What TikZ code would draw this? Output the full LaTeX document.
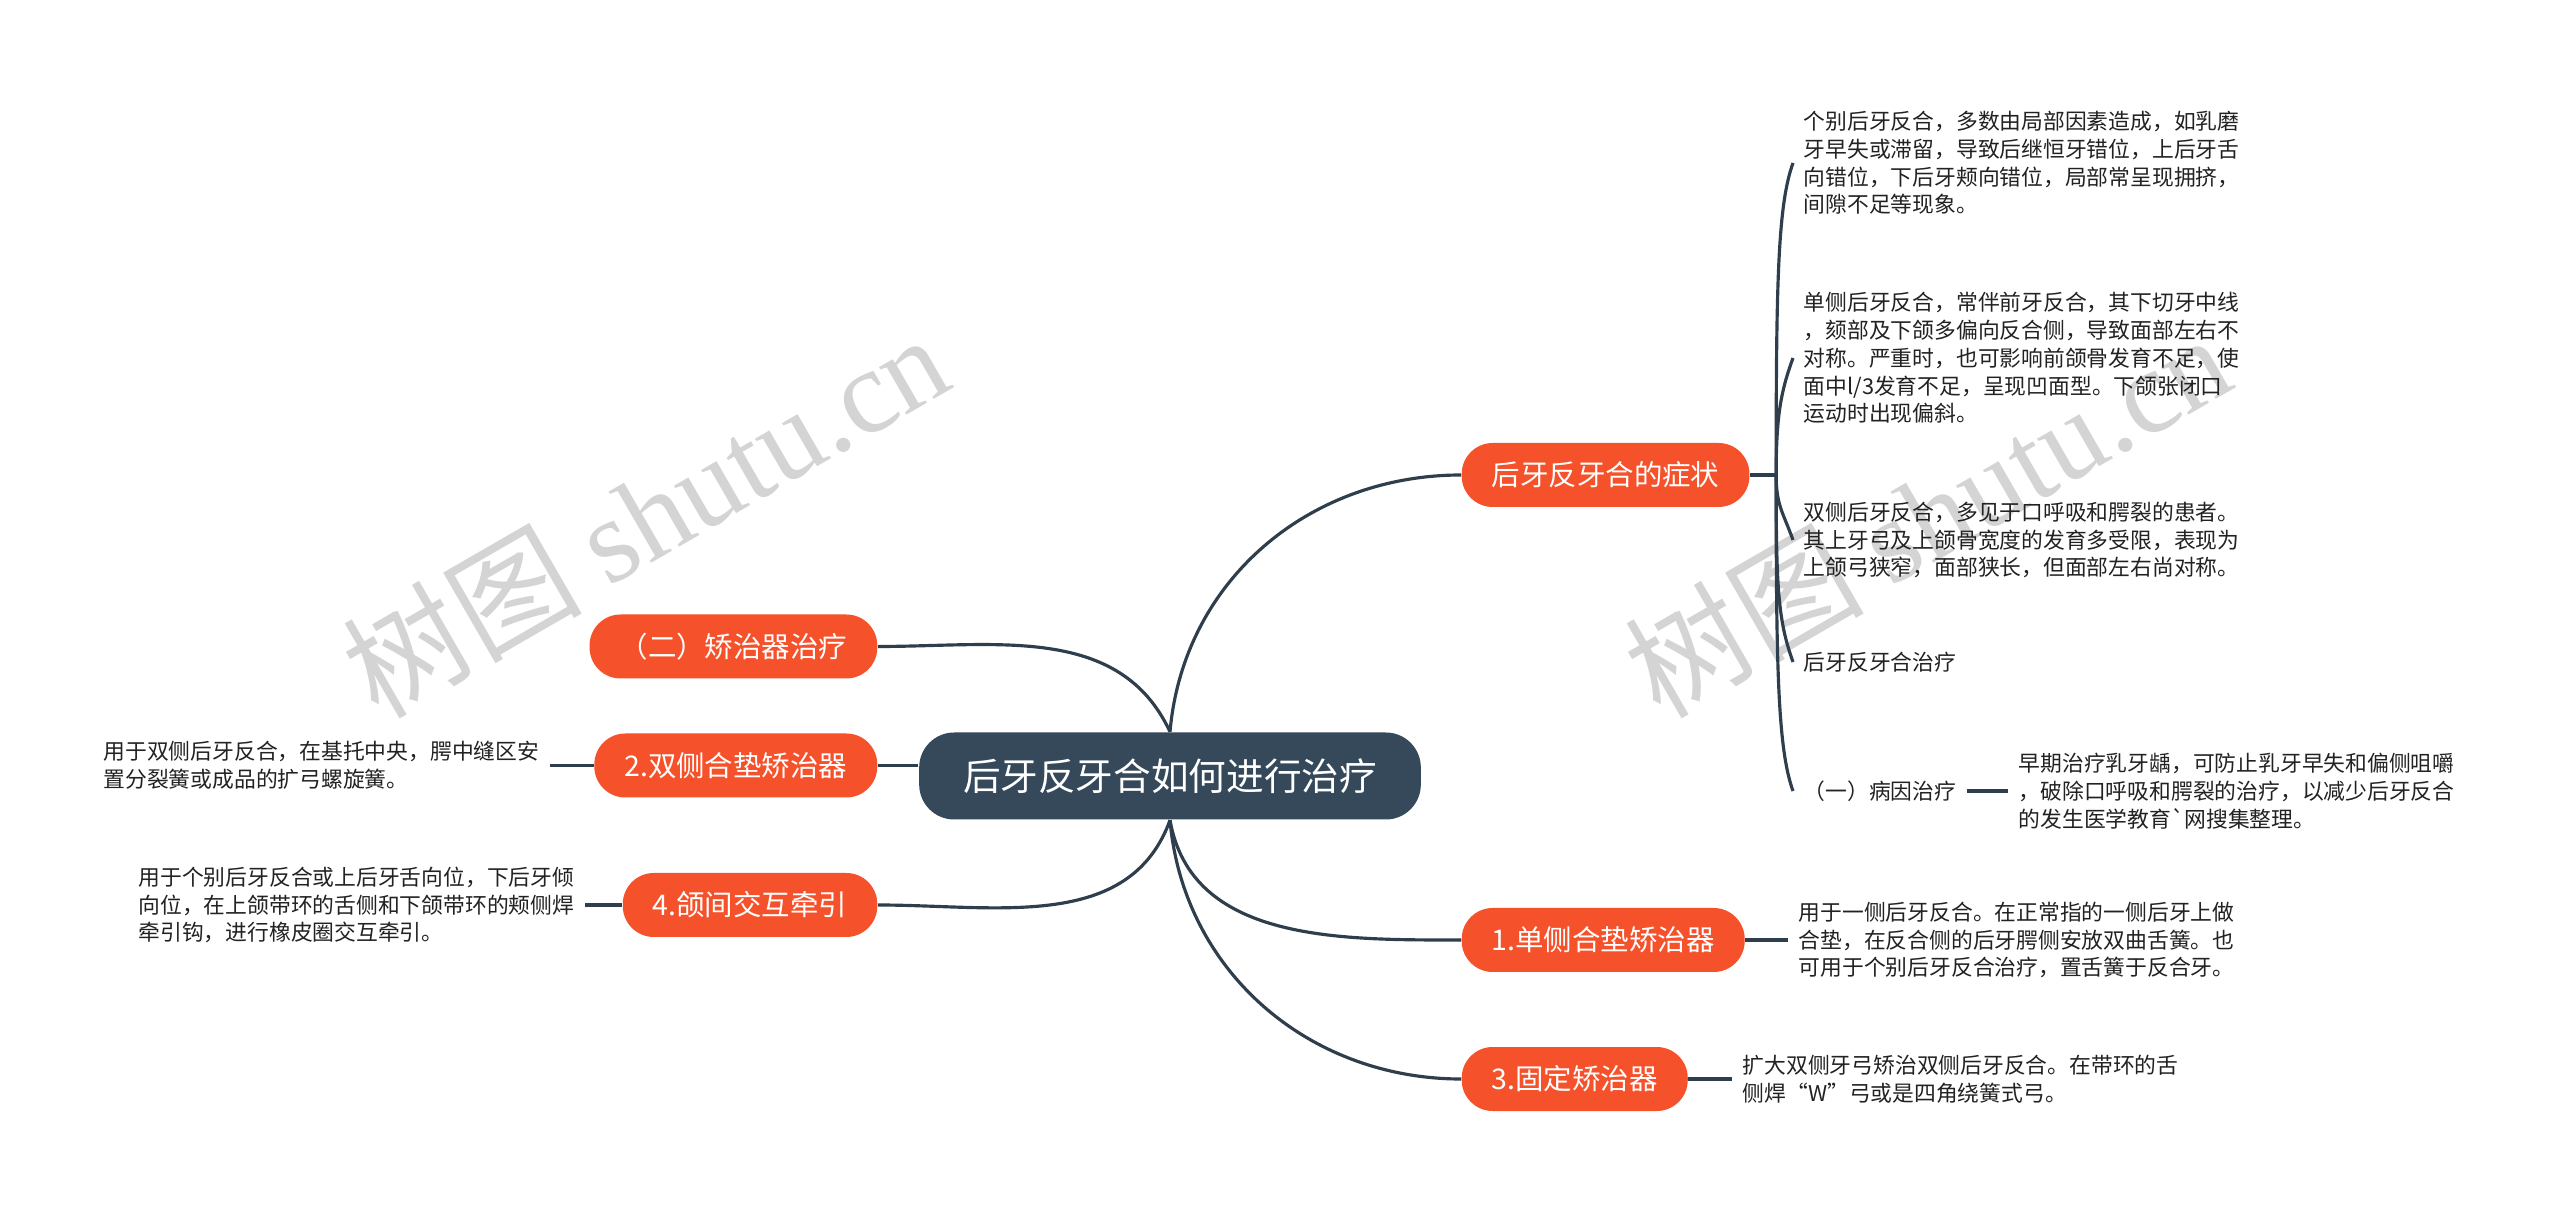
\documentclass[tikz,border=0pt]{standalone}
\usepackage{fontspec}
\setmainfont{Noto Sans CJK SC}
\newfontfamily\wmserif{Liberation Serif}
\usepackage{xcolor}
\usepackage{tikz}
\usetikzlibrary{calc}
\definecolor{rootslate}{HTML}{35495A}
\definecolor{topicred}{HTML}{F5512B}
\definecolor{linkslate}{HTML}{2E3E4C}
\definecolor{inkgray}{HTML}{222222}

\begin{document}
\begin{tikzpicture}[
  root/.style={fill=rootslate, text=white, rounded corners=0.35cm, minimum height=0.87cm, inner xsep=0.44cm, font=\fontsize{10.7}{12}\selectfont},
  topic/.style={fill=topicred, text=white, rounded corners=0.31cm, minimum height=0.64cm, inner xsep=0.3cm, font=\fontsize{8.1}{10}\selectfont},
  note/.style={align=left, inner sep=0.1cm, text=inkgray, font=\fontsize{6.2}{7.9}\selectfont},
  link/.style={draw=linkslate, line width=0.9pt},
  wmark/.style={text=black!17, rotate=30, font=\fontsize{34}{36}\selectfont}
]
\useasboundingbox[fill=white] (0,0) rectangle (25.6,12.12);
% --- watermarks ---
\node[wmark] (wmL) at (6.45,6.98) {树图 {\wmserif shutu.cn}};
\node[wmark] (wmR) at (19.27,6.98) {树图 {\wmserif shutu.cn}};
% --- root and main topics ---
\node[root] (root) at (11.70,4.36) {后牙反牙合如何进行治疗};
\node[topic, anchor=west] (sym)   at (14.61,7.37) {后牙反牙合的症状};
\node[topic, anchor=west] (one)   at (14.61,2.72) {1.单侧合垫矫治器};
\node[topic, anchor=west] (three) at (14.61,1.33) {3.固定矫治器};
\node[topic, anchor=east] (appl)  at (8.78,5.655) {（二）矫治器治疗};
\node[topic, anchor=east] (two)   at (8.78,4.465) {2.双侧合垫矫治器};
\node[topic, anchor=east] (four)  at (8.78,3.07)  {4.颌间交互牵引};
\draw[link] (root.north) to[out=85, in=180] (sym.west);
\draw[link] (root.north) to[out=115, in=0] (appl.east);
\draw[link] (two.east) -- (two.east -| root.west);
\draw[link] (root.south) to[out=-110, in=0] (four.east);
\draw[link] (root.south) to[out=-80, in=180] (one.west);
\draw[link] (root.south) to[out=-85, in=180] (three.west);
% --- symptoms ---
\coordinate (hub) at ($(sym.east)+(0.26,0)$);
\node[note, anchor=west] (symA) at (17.93,10.49)
  {个别后牙反合，多数由局部因素造成，如乳磨\\牙早失或滞留，导致后继恒牙错位，上后牙舌\\向错位，下后牙颊向错位，局部常呈现拥挤，\\间隙不足等现象。};
\node[note, anchor=west] (symB) at (17.93,8.54)
  {单侧后牙反合，常伴前牙反合，其下切牙中线\\，颏部及下颌多偏向反合侧，导致面部左右不\\对称。严重时，也可影响前颌骨发育不足，使\\面中l/3发育不足，呈现凹面型。下颌张闭口\\运动时出现偏斜。};
\node[note, anchor=west] (symC) at (17.93,6.72)
  {双侧后牙反合，多见于口呼吸和腭裂的患者。\\其上牙弓及上颌骨宽度的发育多受限，表现为\\上颌弓狭窄，面部狭长，但面部左右尚对称。};
\node[note, anchor=west] (symD) at (17.93,5.50) {后牙反牙合治疗};
\node[note, anchor=west] (symE) at (17.93,4.21) {（一）病因治疗};
\node[note, anchor=west] (symEx) at (20.08,4.21)
  {早期治疗乳牙龋，可防止乳牙早失和偏侧咀嚼\\，破除口呼吸和腭裂的治疗，以减少后牙反合\\的发生医学教育\textasciigrave{}网搜集整理。};
\draw[link] (sym.east) -- (hub);
\draw[link] (hub) to[out=90, in=250, out distance=1.9cm, in distance=0.45cm] (symA.west);
\draw[link] (hub) to[out=90, in=250, out distance=0.6cm, in distance=0.35cm] (symB.west);
\draw[link] (hub) to[out=-90, in=110, out distance=0.3cm, in distance=0.3cm] (symC.west);
\draw[link] (hub) to[out=-90, in=110, out distance=1.1cm, in distance=0.45cm] (symD.west);
\draw[link] (hub) to[out=-90, in=110, out distance=1.9cm, in distance=0.45cm] (symE.west);
\draw[link] (symE.east) -- (symEx.west);
% --- appliance notes ---
\node[note, anchor=west] (oneTx) at (17.88,2.72)
  {用于一侧后牙反合。在正常指的一侧后牙上做\\合垫，在反合侧的后牙腭侧安放双曲舌簧。也\\可用于个别后牙反合治疗，置舌簧于反合牙。};
\node[note, anchor=west] (threeTx) at (17.32,1.33)
  {扩大双侧牙弓矫治双侧后牙反合。在带环的舌\\侧焊“W”弓或是四角绕簧式弓。};
\node[note, anchor=east] (twoTx) at (5.50,4.465)
  {用于双侧后牙反合，在基托中央，腭中缝区安\\置分裂簧或成品的扩弓螺旋簧。};
\node[note, anchor=east] (fourTx) at (5.85,3.07)
  {用于个别后牙反合或上后牙舌向位，下后牙倾\\向位，在上颌带环的舌侧和下颌带环的颊侧焊\\牵引钩，进行橡皮圈交互牵引。};
\draw[link] (one.east) -- (oneTx.west);
\draw[link] (three.east) -- (threeTx.west);
\draw[link] (two.west) -- (twoTx.east);
\draw[link] (four.west) -- (fourTx.east);
\end{tikzpicture}
\end{document}
